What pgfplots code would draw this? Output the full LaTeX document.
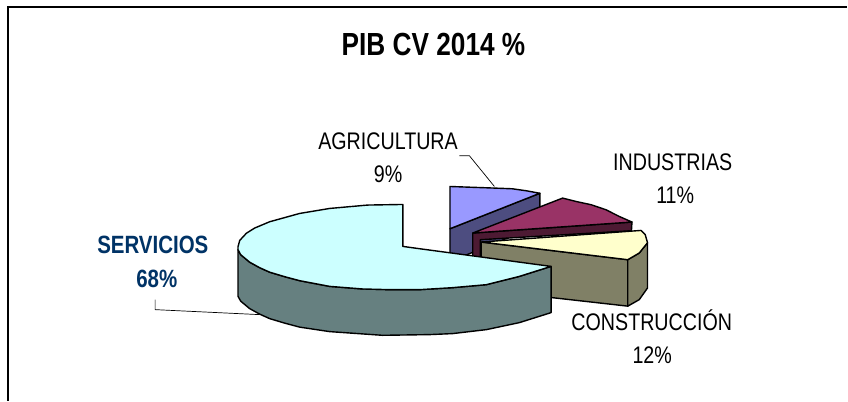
\documentclass[border=0pt]{standalone}
\usepackage{pgfplots}
\pgfplotsset{compat=1.18}
\usepackage{fontspec}
\setmainfont[FakeStretch=0.82]{Liberation Sans}
\definecolor{navy}{HTML}{003366}
\begin{document}
\begin{tikzpicture}
\begin{axis}[scale only axis,width=848pt,height=401pt,xmin=0,xmax=848,ymin=0,ymax=401,y dir=reverse,
  hide axis,clip=false,no markers,
  every axis plot/.append style={line width=1.4pt,line join=round,black}]
% canvas
\addplot[draw=none,fill=white] coordinates {(0,0)(848,0)(848,401)(0,401)} -- cycle;
\addplot[line width=2pt,line join=miter] coordinates {(8.5,401)(8.5,7.5)(848,7.5)};
% Agricultura
\addplot[fill={rgb,255:red,77;green,77;blue,128}] coordinates {(450.5,229)(540.5,193.5)(540.5,225)(450.5,262)} -- cycle;
\addplot[fill={rgb,255:red,153;green,153;blue,255}] coordinates {(450.5,186.7)(495,188.3)(513,189)(527,191)(540.5,193.5)(450.5,229)} -- cycle;
% Industrias
\addplot[fill={rgb,255:red,77;green,26;blue,51}] coordinates {(473.3,233.3)(632.7,222.3)(632.2,231)(481,240)(481,262)(473.3,262)} -- cycle;
\addplot[fill={rgb,255:red,153;green,51;blue,102}] coordinates {(473.3,233.3)(563.3,198.3)(576.7,201.7)(592,205)(606.7,210)(620,216.7)(632.7,222.3)} -- cycle;
% Construccion
\addplot[fill={rgb,255:red,128;green,128;blue,102}] coordinates {(481.7,242.3)(628.5,260)(628.5,306.5)(481.7,290)} -- cycle;
\addplot[fill={rgb,255:red,128;green,128;blue,102}] coordinates {(628.5,260)(640,253.3)(648.3,243)(648.3,288.3)(640,300)(628.5,306.5)} -- cycle;
\addplot[fill={rgb,255:red,255;green,255;blue,204}] coordinates {(481.7,242.3)(641.7,230.7)(646,235)(648.3,243)(640,253.3)(628.5,260)} -- cycle;
% Servicios
\addplot[fill={rgb,255:red,102;green,128;blue,128}] coordinates {(238.3,250)(241,255)(250,262.5)(260,268)(270,272.5)(285,277)(300,281)(330,286.7)(363,289.3)(390,290)(420,290)(453,288)(487,285)(520,276.7)(551.7,266.7)(551.7,313)(520,323)(487,330)(453,334)(430,335)(383,335.7)(330,332)(300,327.5)(285,323.5)(270,319)(260,314.5)(250,309)(241,301.5)(238.3,296.7)} -- cycle;
\addplot[fill={rgb,255:red,204;green,255;blue,255}] coordinates {(403.3,246.7)(403.3,204.7)(368,205.3)(330,208.7)(300,213.7)(270,222)(255,228.3)(246.7,233.5)(240,240.7)(238.3,247)(238.3,250)(241,255)(250,262.5)(260,268)(270,272.5)(285,277)(300,281)(330,286.7)(363,289.3)(390,290)(420,290)(453,288)(487,285)(520,276.7)(551.7,266.7)(420,249)} -- cycle;
% leader lines
\addplot[line width=0.7pt] coordinates {(460,156)(470,156)(495,186.7)};
\addplot[line width=0.7pt] coordinates {(155.3,300)(155.3,310)(260,315)};
% labels
\node[anchor=base,font=\fontsize{32}{32}\selectfont\bfseries] at (axis cs:434,55.5) {PIB CV 2014 \%};
\node[anchor=base,font=\fontsize{24}{24}\selectfont] at (axis cs:388.5,149.3) {AGRICULTURA};
\node[anchor=base,font=\fontsize{24}{24}\selectfont] at (axis cs:388.5,182.5) {9\%};
\node[anchor=base,font=\fontsize{24}{24}\selectfont] at (axis cs:673.5,170.7) {INDUSTRIAS};
\node[anchor=base,font=\fontsize{24}{24}\selectfont] at (axis cs:676,204) {11\%};
\node[anchor=base,font=\fontsize{24}{24}\selectfont] at (axis cs:652.5,330.7) {CONSTRUCCIÓN};
\node[anchor=base,font=\fontsize{24}{24}\selectfont] at (axis cs:653,364) {12\%};
\node[anchor=base,text=navy,font=\fontsize{25}{25}\selectfont\bfseries] at (axis cs:153,253.3) {SERVICIOS};
\node[anchor=base,text=navy,font=\fontsize{25}{25}\selectfont\bfseries] at (axis cs:157,287.7) {68\%};
\end{axis}
\end{tikzpicture}
\end{document}
